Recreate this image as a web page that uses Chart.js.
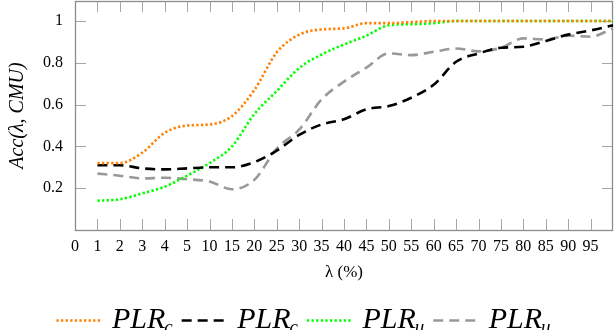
<!DOCTYPE html>
<html>
<head>
<meta charset="utf-8">
<script src="https://cdn.jsdelivr.net/npm/chart.js@4"></script>
<style>
  html, body { margin: 0; padding: 0; background: #fff; }
  #wrap { width: 614px; height: 330px; position: relative; }
</style>
</head>
<body>
<div id="wrap"><canvas id="accChart" width="614" height="330"></canvas></div>
<script>
// lambda (%) categories, the first one ("0") has no data
const lambdas = ["0", "1", "2", "3", "4", "5", "10", "15", "20", "25", "30", "35", "40",
  "45", "50", "55", "60", "65", "70", "75", "80", "85", "90", "95", "100"];

// values for lambda = 1 .. 100
const plrcDotted = [0.32, 0.32, 0.37, 0.465, 0.50, 0.505, 0.545, 0.67, 0.85, 0.935, 0.96, 0.965,
  0.99, 0.99, 0.995, 1, 1, 1, 1, 1, 1, 1, 1, 1];
const plrcDashed = [0.31, 0.31, 0.295, 0.29, 0.295, 0.30, 0.30, 0.325, 0.38, 0.455, 0.505, 0.53,
  0.578, 0.593, 0.633, 0.695, 0.805, 0.845, 0.872, 0.877, 0.905, 0.935, 0.955, 0.98];
const plruDotted = [0.14, 0.147, 0.175, 0.207, 0.26, 0.32, 0.40, 0.555, 0.665, 0.775, 0.84, 0.888,
  0.93, 0.98, 0.985, 0.99, 1, 1, 1, 1, 1, 1, 1, 1];
const plruDashed = [0.27, 0.26, 0.247, 0.25, 0.243, 0.232, 0.195, 0.24, 0.39, 0.48, 0.625, 0.71,
  0.777, 0.845, 0.837, 0.853, 0.869, 0.855, 0.872, 0.917, 0.912, 0.93, 0.925, 0.965];

const yTicks = [0.2, 0.4, 0.6, 0.8, 1];

const SERIF = '"Liberation Serif", "DejaVu Serif", serif';

function line(label, sub, values, color, dash) {
  return {
    label: label,
    sub: sub,
    data: [null].concat(values),
    borderColor: color,
    borderWidth: 2.6,
    borderDash: dash,
    borderCapStyle: "butt",
    pointRadius: 0,
    fill: false,
    cubicInterpolationMode: "monotone",
  };
}

// inward ticks and the grey box round the plot
const axisBox = {
  id: "axisBox",
  beforeDatasetsDraw(chart) {
    const { ctx, chartArea: a, scales: { x, y } } = chart;
    ctx.save();
    ctx.strokeStyle = "#a6a6a6";
    ctx.lineWidth = 1;
    ctx.beginPath();
    const last = x.ticks.length - 1;
    x.ticks.forEach((t, i) => {
      if (i === 0 || i === last) return;
      const px = Math.round(x.getPixelForTick(i)) + 0.5;
      ctx.moveTo(px, a.bottom);
      ctx.lineTo(px, a.bottom - 11);
      ctx.moveTo(px, a.top);
      ctx.lineTo(px, a.top + 11);
    });
    yTicks.forEach((v) => {
      const py = Math.round(y.getPixelForValue(v)) + 0.5;
      ctx.moveTo(a.left, py);
      ctx.lineTo(a.left + 11, py);
      ctx.moveTo(a.right, py);
      ctx.lineTo(a.right - 11, py);
    });
    ctx.stroke();
    ctx.strokeStyle = "#8c8c8c";
    ctx.lineWidth = 1.3;
    ctx.strokeRect(a.left + 0.5, a.top + 0.5, a.right - a.left - 1, a.bottom - a.top);
    ctx.restore();
  },
};

// legend with subscripts, drawn under the axis title
const subLegend = {
  id: "subLegend",
  afterDraw(chart) {
    const ctx = chart.ctx;
    const sets = chart.data.datasets;
    const mainFont = "italic 30px " + SERIF;
    const subFont = "italic 19px " + SERIF;
    const sample = 46, gapIn = 9.5, gapOut = 8;
    ctx.save();
    const widths = sets.map((d) => {
      ctx.font = mainFont;
      const w1 = ctx.measureText(d.label).width;
      ctx.font = subFont;
      const w2 = ctx.measureText(d.sub).width;
      return { w1, w2 };
    });
    let total = 0;
    widths.forEach((w, i) => {
      total += sample + gapIn + w.w1 + w.w2 + (i < widths.length - 1 ? gapOut : 0);
    });
    let xp = 304 - total / 2;
    const ly = 320.5, base = 328;
    sets.forEach((d, i) => {
      ctx.strokeStyle = d.borderColor;
      ctx.lineWidth = d.borderWidth;
      ctx.setLineDash(d.borderDash);
      ctx.beginPath();
      ctx.moveTo(xp, ly);
      ctx.lineTo(xp + sample, ly);
      ctx.stroke();
      ctx.setLineDash([]);
      xp += sample + gapIn;
      ctx.fillStyle = "#000";
      ctx.textBaseline = "alphabetic";
      ctx.textAlign = "left";
      ctx.font = mainFont;
      ctx.fillText(d.label, xp, base);
      xp += widths[i].w1;
      ctx.font = subFont;
      ctx.fillText(d.sub, xp - 1, base + 5);
      xp += widths[i].w2 + gapOut;
    });
    ctx.restore();
  },
};

new Chart(document.getElementById("accChart"), {
  type: "line",
  data: {
    labels: lambdas,
    datasets: [
      line("PLR", "c", plrcDotted, "#ff8000", [2.3, 2.3]),
      line("PLR", "c", plrcDashed, "#000000", [10, 6]),
      line("PLR", "u", plruDotted, "#00ff00", [2.3, 2.3]),
      line("PLR", "u", plruDashed, "#999999", [10, 6]),
    ],
  },
  options: {
    responsive: false,
    animation: false,
    layout: { padding: { top: 1, right: 1, left: 0, bottom: 0 } },
    plugins: { legend: { display: false }, tooltip: { enabled: false } },
    scales: {
      x: {
        type: "category",
        offset: false,
        grid: { display: false, drawTicks: false },
        border: { display: false },
        ticks: {
          autoSkip: false,
          maxRotation: 0,
          padding: 7,
          color: "#000",
          font: { family: SERIF, size: 16 },
          callback: (v, i) => (i === lambdas.length - 1 ? "" : lambdas[i]),
        },
        title: {
          display: true,
          text: "λ (%)",
          color: "#000",
          font: { family: SERIF, size: 17 },
          padding: { top: 0, bottom: 47 },
        },
        afterFit: (s) => {
          s.height = 100;
          s.paddingLeft = 0;
          s.paddingRight = 0;
        },
      },
      y: {
        min: 0,
        max: 1.096,
        grid: { display: false, drawTicks: false },
        border: { display: false },
        afterBuildTicks: (s) => { s.ticks = yTicks.map((v) => ({ value: v })); },
        ticks: {
          padding: 12,
          color: "#000",
          font: { family: SERIF, size: 16 },
          callback: (v) => String(v),
        },
        title: {
          display: true,
          text: "Acc(λ, CMU)",
          color: "#000",
          font: { family: SERIF, size: 20, style: "italic" },
          padding: { top: 6, bottom: 0 },
        },
        afterFit: (s) => {
          s.width = 75;
          s.paddingTop = 0;
          s.paddingBottom = 0;
        },
      },
    },
  },
  plugins: [axisBox, subLegend],
});
</script>
</body>
</html>
